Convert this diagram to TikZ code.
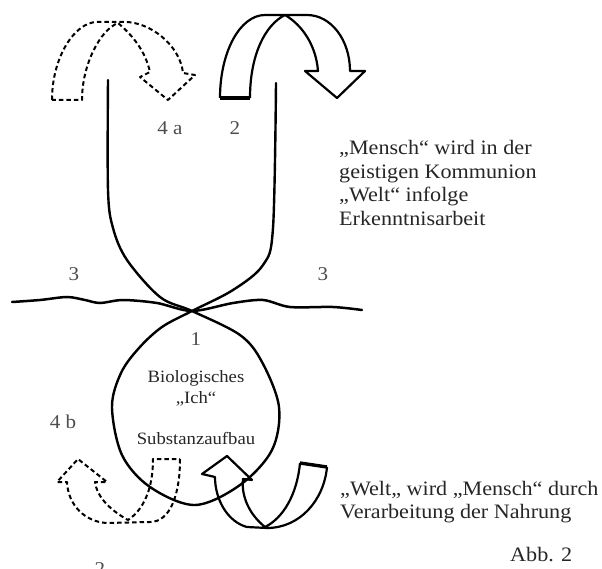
\documentclass[tikz,border=0pt]{standalone}
\usepackage{fontspec}
\setmainfont{Liberation Serif}[FakeStretch=1.08]
\begin{document}
\begin{tikzpicture}[x=1pt,y=-1pt,
  solidarrow/.style={line width=2.2pt, line join=round},
  dasharrow/.style={line width=2pt, line join=round, dash pattern=on 4.5pt off 3pt},
  basebar/.style={line width=3.4pt},
  curve/.style={line width=2.4pt, line cap=round, line join=round},
  horizon/.style={line width=2.5pt, line cap=round},
  tag/.style={text=black!70, font=\fontsize{19.5}{22}\selectfont, inner sep=0pt},
  txt/.style={text=black!85, font=\fontsize{20.5}{24}\selectfont, inner sep=0pt},
  inner/.style={text=black!85, font=\fontsize{17.3}{20}\selectfont, inner sep=0pt}]
\useasboundingbox (0,0) rectangle (602,569);
\clip (0,0) rectangle (602,569);

% upper channel, crossing and the drop shaped loop below it
\draw[curve] plot[smooth, tension=0.55] coordinates {
  (108,80) (108,190) (113,228) (127,260) (160,297) (192,311)
  (240,335) (262,362) (279,407) (272,450) (240,485) (195,505)
  (150,487) (122,455) (112,407) (121,373) (139,348) (162,327)
  (192,311) (233,290) (263,265) (273,228) (276,83)};

% wavy horizon line
\draw[horizon] plot[smooth, tension=0.5] coordinates {
  (12,302) (40,300) (67,297) (85,300) (100,303) (123,300) (157,303)
  (192,311) (233,303) (263,300) (290,307) (333,307) (362,310)};

% arrow 2 (solid, top right)
\draw[solidarrow] (220,98) .. controls (220,52) and (240,15) .. (265,15)
  -- (307,15) .. controls (331,15) and (350,40) .. (350,71)
  -- (365,71) -- (337,98) -- (305,71) -- (318,71)
  .. controls (316,45) and (302,25) .. (285,15)
  .. controls (265,25) and (250,55) .. (250,98);
\draw[basebar] (220,98) -- (250,98);

% arrow 4a (dashed, top left)
\draw[dasharrow] (52,100) .. controls (52,57) and (75,22) .. (97,22)
  -- (125,22) .. controls (150,22) and (180,45) .. (183,73)
  -- (195,75) -- (168,100) -- (140,77) -- (150,72)
  .. controls (145,50) and (132,35) .. (118,23)
  .. controls (100,30) and (82,65) .. (82,100) -- cycle;

% arrow 4b (dashed, bottom left)
\draw[dasharrow] (180,459) .. controls (180,495) and (170,522) .. (150,522)
  -- (107,523) .. controls (85,522) and (68,505) .. (67,482)
  -- (57,482) -- (78,459) -- (107,482) -- (95,482)
  .. controls (97,497) and (110,510) .. (128,520)
  .. controls (143,510) and (153,490) .. (153,459) -- cycle;

% arrow 2 (solid, bottom right)
\draw[solidarrow] (327,467) .. controls (324,500) and (300,528) .. (267,528)
  -- (247,527) .. controls (228,522) and (215,500) .. (215,477)
  -- (202,474) -- (227,456) -- (252,480) -- (243,479)
  .. controls (241,497) and (250,515) .. (265,527)
  .. controls (283,518) and (297,495) .. (300,463);
\draw[basebar] (300,463) -- (327,467);

% number tags
\node[tag, anchor=base] (t4a) at (170,135) {4 a};
\node[tag, anchor=base] (t2a) at (235,135) {2};
\node[tag, anchor=base] (t3l) at (74,280) {3};
\node[tag, anchor=base] (t3r) at (323,280) {3};
\node[tag, anchor=base] (t1) at (196,345) {1};
\node[tag, anchor=base] (t4b) at (63,428) {4 b};
\node[tag, anchor=base] (t2b) at (100,575) {2};

% text inside the loop
\node[inner, anchor=base] (bio) at (196,382) {Biologisches};
\node[inner, anchor=base] (ich) at (196,403) {„Ich“};
\node[inner, anchor=base] (sub) at (196,444) {Substanzaufbau};

% explanation, upper right
\node[txt, anchor=base west] (m1) at (339,155) {„Mensch“ wird in der};
\node[txt, anchor=base west] (m2) at (339,178.5) {geistigen Kommunion};
\node[txt, anchor=base west] (m3) at (339,202) {„Welt“ infolge};
\node[txt, anchor=base west] (m4) at (339,225.5) {Erkenntnisarbeit};

% explanation, lower right
\node[txt, anchor=base west] (w1) at (340,495) {„Welt„ wird „Mensch“ durch};
\node[txt, anchor=base west] (w2) at (340,518) {Verarbeitung der Nahrung};

\node[txt, anchor=base west] (abb) at (510,561) {Abb. 2};
\end{tikzpicture}
\end{document}
